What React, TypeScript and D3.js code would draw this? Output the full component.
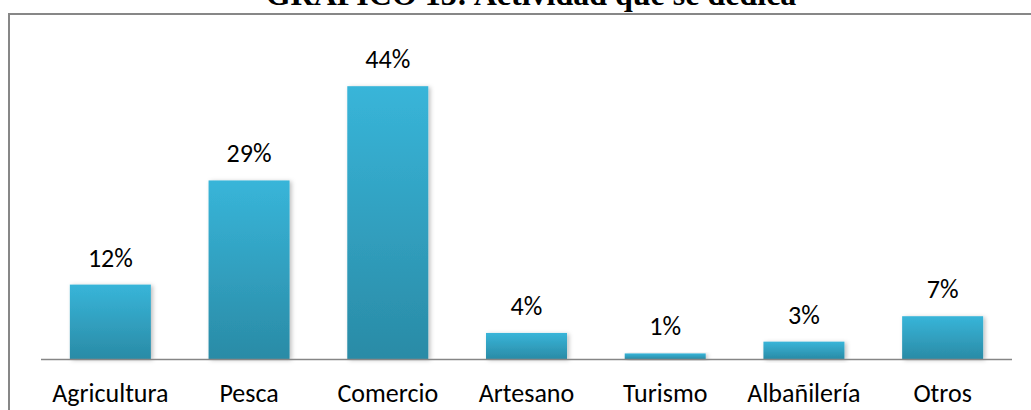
import React from "react";
import * as d3 from "d3";

const categories = ["Agricultura", "Pesca", "Comercio", "Artesano", "Turismo", "Albañilería", "Otros"];
const values = [12, 28.8, 44, 4.2, 0.9, 2.8, 6.9];
const labels = ["12%", "29%", "44%", "4%", "1%", "3%", "7%"];
const title = "GRÁFICO 13: Actividad que se dedica";

const W = 1031;
const H = 410;
const axisLeft = 41;
const axisRight = 1012;
const baseY = 359;

export default function App() {
  const x = d3.scaleBand<string>().domain(categories).range([axisLeft, axisRight]).paddingInner(0.416).paddingOuter(0.208);
  const y = d3.scaleLinear().domain([0, 50]).range([baseY, 49]);
  const font = "Carlito, Calibri, Lato, 'Open Sans', sans-serif";
  return (
    <svg width={W} height={H} style={{ position: "absolute", left: 0, top: 0, background: "#fff" }}>
      <defs>
        <linearGradient id="barGrad" x1="0" y1="0" x2="0" y2="1">
          <stop offset="0" stopColor="#38b5d9" />
          <stop offset="1" stopColor="#2a8ba6" />
        </linearGradient>
        <filter id="shadow" x="-20%" y="-20%" width="140%" height="140%">
          <feDropShadow dx="2" dy="1" stdDeviation="2" floodColor="#000" floodOpacity="0.25" />
        </filter>
      </defs>
      <text x={531} y={5} textAnchor="middle" fontFamily="'Liberation Serif', 'Times New Roman', serif" fontWeight="bold" fontSize={32} fill="#000">
        {title}
      </text>
      <rect x={9} y={14} width={1100} height={500} fill="none" stroke="#878787" strokeWidth={2} />
      {categories.map((c, i) => (
        <rect
          key={c}
          x={x(c)}
          y={y(values[i])}
          width={x.bandwidth()}
          height={baseY - y(values[i])}
          fill="url(#barGrad)"
          filter="url(#shadow)"
        />
      ))}
      <line x1={axisLeft} x2={axisRight} y1={baseY + 0.5} y2={baseY + 0.5} stroke="#868686" strokeWidth={1.5} />
      {categories.map((c, i) => (
        <text
          key={"v" + c}
          x={(x(c) as number) + x.bandwidth() / 2}
          y={y(values[i]) - 18}
          textAnchor="middle"
          fontFamily={font}
          fontSize={26}
          fill="#000"
        >
          {labels[i]}
        </text>
      ))}
      {categories.map((c) => (
        <text
          key={"c" + c}
          x={(x(c) as number) + x.bandwidth() / 2}
          y={402}
          textAnchor="middle"
          fontFamily={font}
          fontSize={26}
          fill="#000"
        >
          {c}
        </text>
      ))}
    </svg>
  );
}
